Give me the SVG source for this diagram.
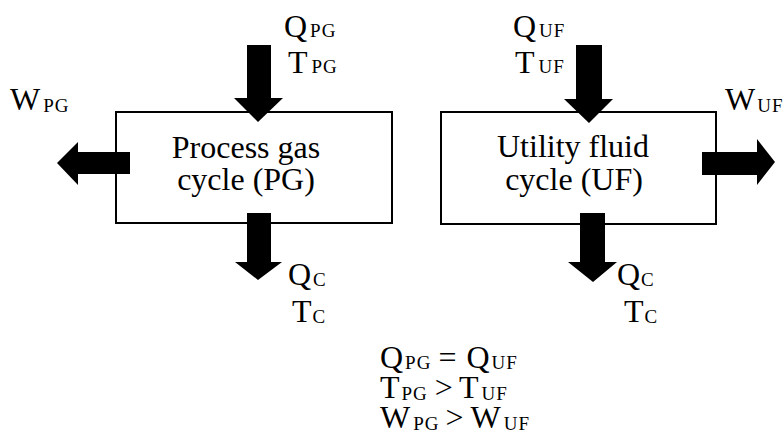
<svg xmlns="http://www.w3.org/2000/svg" width="784" height="447" viewBox="0 0 784 447" font-family="'Liberation Serif', 'DejaVu Serif', serif">
<style>
text, tspan{font-family:"Liberation Serif","DejaVu Serif",serif;fill:#000}
.m{font-size:32px}
.s{font-size:19px;letter-spacing:1px}
.box{fill:#fff;stroke:#000;stroke-width:2}
.arr{fill:#000;stroke:none}
</style>
<rect width="784" height="447" fill="#fff"/>
<g id="pg">
<rect class="box" x="116" y="112" width="276" height="111"/>
<text class="m" x="246" y="158" text-anchor="middle">Process gas</text>
<text class="m" x="246" y="190" text-anchor="middle">cycle (PG)</text>
</g>
<g id="uf">
<rect class="box" x="441" y="112" width="275" height="112"/>
<text class="m" x="573" y="157" text-anchor="middle">Utility fluid</text>
<text class="m" x="574" y="190" text-anchor="middle">cycle (UF)</text>
</g>
<g id="connectors">
<polygon class="arr" points="247,45 271,45 271,98 283,98 258,122 234,98 247,98"/>
<polygon class="arr" points="247,213 271,213 271,262 282,262 258,280 235,262 247,262"/>
<polygon class="arr" points="130,152 130,174 78,174 78,185 57,163 78,142 78,152"/>
<polygon class="arr" points="576,45 602,45 602,99 613,99 589,123 564,99 576,99"/>
<polygon class="arr" points="580,213 605,213 605,262 617,262 593,282 568,262 580,262"/>
<polygon class="arr" points="702,152 757,152 757,139 775,162 757,185 757,175 702,175"/>
</g>
<g id="labels">
<text x="284" y="37"><tspan class="m">Q</tspan><tspan class="s" dx="3">PG</tspan></text>
<text x="288" y="73"><tspan class="m">T</tspan><tspan class="s" dx="4">PG</tspan></text>
<text x="10" y="110"><tspan class="m">W</tspan><tspan class="s" dx="3" dy="2">PG</tspan></text>
<text x="288" y="285"><tspan class="m">Q</tspan><tspan class="s" dx="2" dy="1">C</tspan></text>
<text x="292" y="322"><tspan class="m">T</tspan><tspan class="s" dx="1" dy="1">C</tspan></text>
<text x="513" y="37"><tspan class="m">Q</tspan><tspan class="s" dx="3">UF</tspan></text>
<text x="515" y="73"><tspan class="m">T</tspan><tspan class="s" dx="4">UF</tspan></text>
<text x="725" y="110"><tspan class="m">W</tspan><tspan class="s" dx="2" dy="2">UF</tspan></text>
<text x="617" y="285"><tspan class="m">Q</tspan><tspan class="s" dx="1" dy="1">C</tspan></text>
<text x="624" y="322"><tspan class="m">T</tspan><tspan class="s" dx="1" dy="1">C</tspan></text>
</g>
<g id="relations">
<text x="380" y="368"><tspan class="m">Q</tspan><tspan class="s" dx="2" dy="1">PG</tspan><tspan class="m" dy="-1" dx="7">=</tspan><tspan class="m" dx="10">Q</tspan><tspan class="s" dx="2" dy="1">UF</tspan></text>
<text x="380" y="398"><tspan class="m">T</tspan><tspan class="s" dx="2" dy="2">PG</tspan><tspan class="m" dy="-2" dx="7">&gt;</tspan><tspan class="m" dx="6">T</tspan><tspan class="s" dy="2" dx="3">UF</tspan></text>
<text x="380" y="428"><tspan class="m">W</tspan><tspan class="s" dy="2" dx="3">PG</tspan><tspan class="m" dy="-2" dx="6">&gt;</tspan><tspan class="m" dx="7">W</tspan><tspan class="s" dy="2" dx="3">UF</tspan></text>
</g>
</svg>
